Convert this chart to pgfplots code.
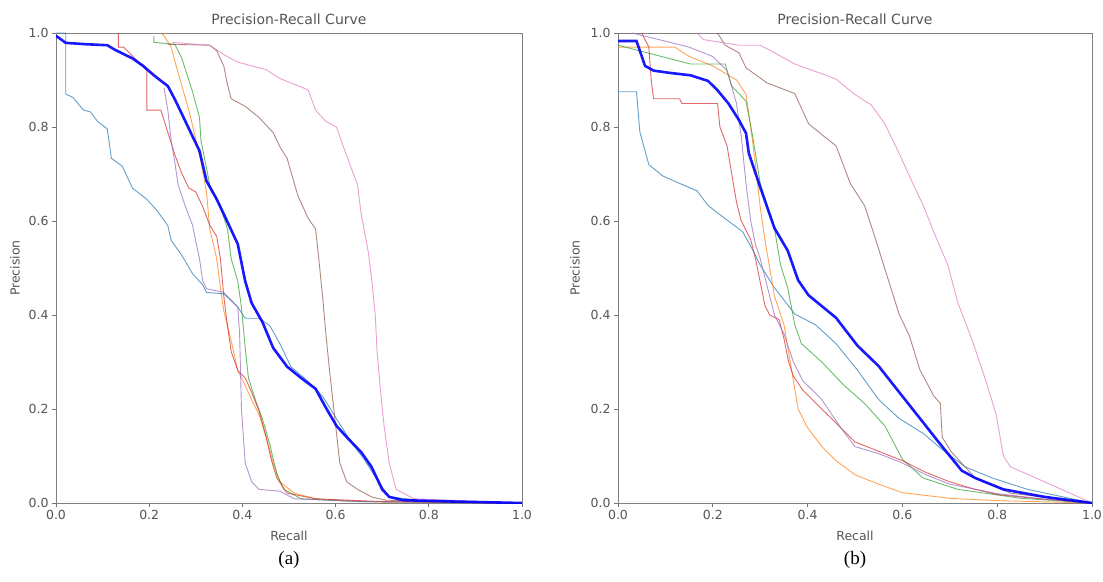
\documentclass[border=0pt]{standalone}
\usepackage{pgfplots}
\pgfplotsset{compat=1.18}
\usepackage{fontspec}
\setmainfont{DejaVu Sans}
\newfontfamily\capfont{Liberation Serif}
\definecolor{tbl}{HTML}{1F77B4}
\definecolor{tor}{HTML}{FF7F0E}
\definecolor{tgr}{HTML}{2CA02C}
\definecolor{tre}{HTML}{D62728}
\definecolor{tpu}{HTML}{9467BD}
\definecolor{tbr}{HTML}{8C564B}
\definecolor{tpi}{HTML}{E377C2}
\definecolor{txt}{HTML}{555555}
\pgfplotsset{
  prstyle/.style={
    scale only axis, height=470pt,
    xmin=0, xmax=1, ymin=0, ymax=1,
    xtick={0,0.2,0.4,0.6,0.8,1}, ytick={0,0.2,0.4,0.6,0.8,1},
    xtick pos=bottom, ytick pos=left,
    tick align=outside, major tick length=4pt,
    tick style={black!55, line width=0.8pt},
    axis line style={black!50, line width=0.9pt},
    every tick label/.append style={font=\fontsize{12.5}{14}\selectfont, text=txt},
    /pgf/number format/assume math mode=true,
    /pgf/number format/.cd, fixed, fixed zerofill, precision=1, /pgfplots/.cd,
    clip mode=individual,
    thin/.style={line width=0.9pt, opacity=0.7},
  }
}
\begin{document}
\begin{tikzpicture}
\useasboundingbox (0,0) rectangle (1103pt,581pt);
% ---------------- (a) ----------------
\begin{axis}[prstyle, width=466pt, at={(56pt,78pt)}, anchor=south west]
\node[font=\fontsize{14}{16}\selectfont, text=txt] at (axis description cs:0.5,1.030) {Precision-Recall Curve};
\node[font=\fontsize{12.5}{14}\selectfont, text=txt] at (axis description cs:0.5,-0.070) {Recall};
\node[font=\fontsize{12.5}{14}\selectfont, text=txt, rotate=90] at (axis description cs:-0.088,0.5) {Precision};
\node[font=\capfont\fontsize{19}{22}\selectfont] at (axis description cs:0.5,-0.121) {(a)};
% tab blue
\addplot[tbl, thin] coordinates {(0,1.0)(0.021,1.0)(0.021,0.87)(0.036,0.863)(0.059,0.836)(0.074,0.832)(0.089,0.812)(0.11,0.796)(0.119,0.733)(0.142,0.717)(0.164,0.67)(0.195,0.646)(0.217,0.622)(0.24,0.59)(0.247,0.559)(0.27,0.527)(0.293,0.488)(0.315,0.464)(0.323,0.448)(0.36,0.445)(0.39,0.417)(0.406,0.393)(0.436,0.393)(0.459,0.377)(0.481,0.338)(0.504,0.29)(0.541,0.259)(0.572,0.227)(0.602,0.179)(0.632,0.132)(0.662,0.092)(0.692,0.045)(0.715,0.013)(0.78,0.006)(1,0)};
% orange
\addplot[tor, thin] coordinates {(0.225,1.0)(0.232,0.994)(0.247,0.97)(0.262,0.915)(0.285,0.836)(0.308,0.741)(0.323,0.662)(0.33,0.583)(0.345,0.519)(0.353,0.456)(0.36,0.409)(0.376,0.345)(0.39,0.282)(0.406,0.25)(0.42,0.219)(0.436,0.187)(0.451,0.14)(0.466,0.085)(0.481,0.045)(0.511,0.021)(0.557,0.009)(0.632,0.004)(0.7,0.002)(1,0)};
% green
\addplot[tgr, thin] coordinates {(0.21,0.994)(0.21,0.98)(0.255,0.976)(0.27,0.946)(0.293,0.875)(0.308,0.82)(0.311,0.772)(0.33,0.677)(0.353,0.63)(0.368,0.583)(0.376,0.519)(0.39,0.472)(0.398,0.417)(0.406,0.33)(0.413,0.266)(0.428,0.219)(0.443,0.179)(0.459,0.124)(0.474,0.061)(0.489,0.029)(0.526,0.009)(0.65,0.003)(1,0)};
% red
\addplot[tre, thin] coordinates {(0.134,1.0)(0.134,0.97)(0.145,0.97)(0.195,0.92)(0.195,0.836)(0.225,0.836)(0.255,0.741)(0.27,0.701)(0.285,0.67)(0.3,0.662)(0.315,0.63)(0.33,0.591)(0.345,0.567)(0.353,0.519)(0.36,0.44)(0.368,0.377)(0.376,0.322)(0.39,0.282)(0.406,0.266)(0.42,0.235)(0.436,0.195)(0.451,0.14)(0.462,0.092)(0.474,0.053)(0.496,0.021)(0.557,0.009)(0.7,0.003)(1,0)};
% purple
\addplot[tpu, thin] coordinates {(0.232,0.883)(0.24,0.836)(0.247,0.772)(0.255,0.725)(0.262,0.677)(0.278,0.63)(0.293,0.591)(0.308,0.519)(0.315,0.472)(0.323,0.456)(0.36,0.448)(0.376,0.432)(0.39,0.417)(0.394,0.36)(0.398,0.2)(0.406,0.085)(0.42,0.045)(0.436,0.029)(0.481,0.025)(0.511,0.009)(0.65,0.003)(1,0)};
% brown
\addplot[tbr, thin] coordinates {(0.24,0.976)(0.33,0.974)(0.345,0.962)(0.36,0.93)(0.368,0.89)(0.376,0.86)(0.406,0.844)(0.436,0.82)(0.466,0.788)(0.481,0.757)(0.496,0.733)(0.519,0.654)(0.541,0.606)(0.557,0.583)(0.564,0.519)(0.572,0.44)(0.579,0.361)(0.587,0.282)(0.594,0.219)(0.602,0.148)(0.609,0.085)(0.624,0.045)(0.647,0.029)(0.677,0.013)(0.707,0.006)(1,0)};
% pink
\addplot[tpi, thin] coordinates {(0.25,0.98)(0.33,0.974)(0.36,0.954)(0.39,0.938)(0.42,0.93)(0.451,0.922)(0.481,0.903)(0.511,0.891)(0.541,0.879)(0.557,0.836)(0.579,0.812)(0.602,0.8)(0.617,0.757)(0.632,0.717)(0.647,0.677)(0.655,0.614)(0.67,0.535)(0.677,0.48)(0.685,0.401)(0.689,0.322)(0.696,0.243)(0.704,0.164)(0.715,0.085)(0.73,0.029)(0.768,0.009)(1,0)};
% mean (thick blue)
\addplot[blue, line width=2.6pt, opacity=0.9] coordinates {(0,0.994)(0.021,0.979)(0.066,0.976)(0.11,0.974)(0.127,0.964)(0.164,0.946)(0.187,0.93)(0.21,0.91)(0.24,0.887)(0.255,0.859)(0.27,0.828)(0.293,0.78)(0.308,0.749)(0.323,0.685)(0.345,0.646)(0.368,0.598)(0.39,0.551)(0.406,0.472)(0.42,0.425)(0.443,0.385)(0.466,0.33)(0.496,0.29)(0.526,0.266)(0.557,0.243)(0.579,0.203)(0.602,0.164)(0.624,0.14)(0.655,0.108)(0.677,0.077)(0.7,0.029)(0.715,0.013)(0.745,0.006)(0.858,0.003)(1,0)};
\end{axis}
% ---------------- (b) ----------------
\begin{axis}[prstyle, width=474pt, at={(618pt,78pt)}, anchor=south west]
\node[font=\fontsize{14}{16}\selectfont, text=txt] at (axis description cs:0.5,1.030) {Precision-Recall Curve};
\node[font=\fontsize{12.5}{14}\selectfont, text=txt] at (axis description cs:0.5,-0.070) {Recall};
\node[font=\fontsize{12.5}{14}\selectfont, text=txt, rotate=90] at (axis description cs:-0.091,0.5) {Precision};
\node[font=\capfont\fontsize{19}{22}\selectfont] at (axis description cs:0.5,-0.121) {(b)};
% tab blue
\addplot[tbl, thin] coordinates {(0,0.875)(0.039,0.875)(0.046,0.79)(0.065,0.72)(0.094,0.696)(0.13,0.68)(0.167,0.664)(0.19,0.633)(0.21,0.617)(0.233,0.6)(0.263,0.577)(0.285,0.537)(0.3,0.506)(0.33,0.458)(0.373,0.402)(0.417,0.379)(0.46,0.339)(0.505,0.283)(0.55,0.22)(0.593,0.18)(0.644,0.148)(0.68,0.117)(0.732,0.077)(0.79,0.053)(0.864,0.029)(1,0)};
% orange
\addplot[tor, thin] coordinates {(0,0.97)(0.12,0.97)(0.15,0.95)(0.2,0.93)(0.25,0.9)(0.27,0.87)(0.28,0.8)(0.29,0.72)(0.3,0.63)(0.31,0.56)(0.32,0.5)(0.33,0.44)(0.34,0.41)(0.35,0.38)(0.36,0.32)(0.37,0.26)(0.38,0.2)(0.4,0.16)(0.43,0.12)(0.46,0.09)(0.5,0.06)(0.55,0.04)(0.6,0.022)(0.7,0.01)(0.8,0.005)(1,0)};
% green
\addplot[tgr, thin] coordinates {(0,0.974)(0.153,0.934)(0.226,0.934)(0.24,0.887)(0.27,0.855)(0.285,0.775)(0.3,0.68)(0.33,0.585)(0.343,0.506)(0.358,0.458)(0.373,0.379)(0.387,0.339)(0.431,0.299)(0.475,0.252)(0.52,0.212)(0.563,0.164)(0.6,0.093)(0.644,0.053)(0.717,0.029)(0.85,0.01)(1,0)};
% red
\addplot[tre, thin] coordinates {(0.05,1.0)(0.065,0.97)(0.07,0.9)(0.075,0.86)(0.13,0.86)(0.135,0.85)(0.21,0.85)(0.215,0.8)(0.23,0.76)(0.24,0.7)(0.25,0.64)(0.26,0.6)(0.27,0.58)(0.28,0.56)(0.29,0.52)(0.3,0.47)(0.31,0.42)(0.32,0.4)(0.34,0.39)(0.35,0.35)(0.36,0.3)(0.37,0.27)(0.39,0.24)(0.41,0.22)(0.44,0.19)(0.47,0.16)(0.5,0.13)(0.55,0.11)(0.6,0.09)(0.65,0.065)(0.7,0.045)(0.75,0.03)(0.8,0.018)(0.9,0.008)(1,0)};
% purple
\addplot[tpu, thin] coordinates {(0.03,1.0)(0.15,0.97)(0.2,0.95)(0.23,0.92)(0.25,0.85)(0.26,0.78)(0.27,0.68)(0.28,0.6)(0.29,0.55)(0.3,0.52)(0.31,0.48)(0.32,0.44)(0.33,0.4)(0.35,0.36)(0.37,0.3)(0.39,0.26)(0.41,0.24)(0.43,0.22)(0.45,0.19)(0.47,0.16)(0.5,0.12)(0.55,0.105)(0.6,0.085)(0.65,0.06)(0.7,0.04)(0.8,0.02)(0.9,0.008)(1,0)};
% brown
\addplot[tbr, thin] coordinates {(0.21,1.0)(0.226,0.974)(0.255,0.958)(0.27,0.926)(0.314,0.894)(0.373,0.871)(0.402,0.807)(0.431,0.783)(0.46,0.76)(0.49,0.68)(0.52,0.633)(0.541,0.569)(0.563,0.498)(0.593,0.402)(0.615,0.355)(0.637,0.283)(0.666,0.228)(0.68,0.212)(0.684,0.14)(0.703,0.109)(0.754,0.053)(0.828,0.021)(1,0)};
% pink
\addplot[tpi, thin] coordinates {(0.167,1.0)(0.18,0.986)(0.255,0.974)(0.3,0.974)(0.33,0.958)(0.373,0.934)(0.417,0.918)(0.46,0.902)(0.497,0.871)(0.534,0.847)(0.563,0.807)(0.593,0.744)(0.622,0.68)(0.644,0.633)(0.666,0.577)(0.696,0.506)(0.717,0.426)(0.747,0.347)(0.776,0.26)(0.798,0.188)(0.813,0.1)(0.828,0.077)(0.9,0.045)(1,0)};
% mean (thick blue)
\addplot[blue, line width=2.6pt, opacity=0.9] coordinates {(0,0.983)(0.039,0.983)(0.057,0.93)(0.075,0.92)(0.11,0.915)(0.153,0.91)(0.19,0.898)(0.21,0.878)(0.233,0.85)(0.255,0.815)(0.27,0.787)(0.276,0.744)(0.3,0.672)(0.33,0.585)(0.358,0.537)(0.38,0.474)(0.402,0.442)(0.46,0.394)(0.505,0.335)(0.55,0.291)(0.593,0.236)(0.637,0.18)(0.68,0.125)(0.725,0.069)(0.754,0.053)(0.813,0.029)(0.9,0.013)(1,0)};
\end{axis}
\end{tikzpicture}
\end{document}
